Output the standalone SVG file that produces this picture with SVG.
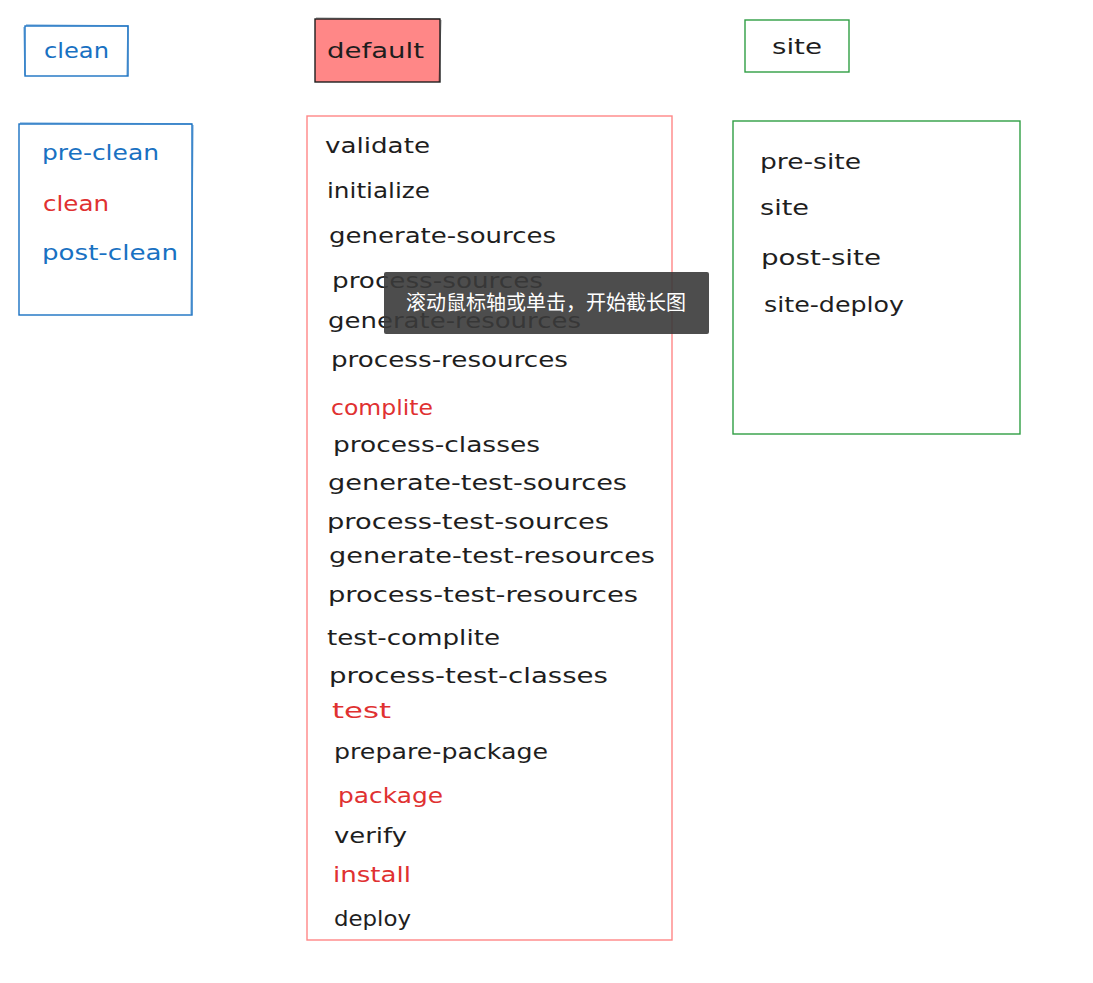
<svg xmlns="http://www.w3.org/2000/svg" width="1093" height="983" viewBox="0 0 1093 983">
<style>
.t{font-family:"DejaVu Sans","Liberation Sans",sans-serif;font-size:22px;fill:#1e1e1e}
.r{fill:#e03131}
.b{fill:#1971c2}
.box{fill:none;stroke-width:1.4}
.blue{stroke:#1971c2}
.red{stroke:#ff8787}
.green{stroke:#2f9e44}
.tip{font-family:"Noto Sans CJK SC","Noto Sans",sans-serif;font-size:20px;fill:#ffffff}
</style>
<rect width="1093" height="983" fill="#ffffff"/>
<g id="connectors"/>
<g id="clean-header">
<rect class="box blue" x="25" y="26" width="103" height="50"/>
<path class="box blue" d="M26 25 L128 26 M128 25 L127 76 M24 27 L25 75" stroke-opacity="0.5"/>
<text class="t b" x="44" y="58" textLength="65" lengthAdjust="spacingAndGlyphs">clean</text>
</g>
<g id="clean-list">
<rect class="box blue" x="19" y="124" width="173" height="191"/>
<path class="box blue" d="M20 123 L192 124 M193 125 L191 314" stroke-opacity="0.5"/>
<text class="t b" x="42" y="160" textLength="117" lengthAdjust="spacingAndGlyphs">pre-clean</text>
<text class="t r" x="43" y="211" textLength="66" lengthAdjust="spacingAndGlyphs">clean</text>
<text class="t b" x="42" y="260" textLength="136" lengthAdjust="spacingAndGlyphs">post-clean</text>
</g>
<g id="default-header">
<rect x="315" y="19" width="125" height="63" fill="#ff8787" stroke="#1e1e1e" stroke-width="1.4"/>
<path d="M316 18 L440 19 M441 20 L439 82" fill="none" stroke="#1e1e1e" stroke-width="1" stroke-opacity="0.5"/>
<text class="t" x="327" y="58" textLength="97" lengthAdjust="spacingAndGlyphs">default</text>
</g>
<g id="default-list">
<rect class="box red" x="307" y="116" width="365" height="824"/>
<text class="t" x="325" y="153" textLength="105" lengthAdjust="spacingAndGlyphs">validate</text>
<text class="t" x="327" y="198" textLength="103" lengthAdjust="spacingAndGlyphs">initialize</text>
<text class="t" x="329" y="243" textLength="227" lengthAdjust="spacingAndGlyphs">generate-sources</text>
<text class="t" x="332" y="288" textLength="211" lengthAdjust="spacingAndGlyphs">process-sources</text>
<text class="t" x="328" y="328" textLength="253" lengthAdjust="spacingAndGlyphs">generate-resources</text>
<text class="t" x="331" y="367" textLength="237" lengthAdjust="spacingAndGlyphs">process-resources</text>
<text class="t r" x="331" y="415" textLength="102" lengthAdjust="spacingAndGlyphs">complite</text>
<text class="t" x="333" y="452" textLength="207" lengthAdjust="spacingAndGlyphs">process-classes</text>
<text class="t" x="328" y="490" textLength="299" lengthAdjust="spacingAndGlyphs">generate-test-sources</text>
<text class="t" x="327" y="529" textLength="282" lengthAdjust="spacingAndGlyphs">process-test-sources</text>
<text class="t" x="329" y="563" textLength="326" lengthAdjust="spacingAndGlyphs">generate-test-resources</text>
<text class="t" x="328" y="602" textLength="310" lengthAdjust="spacingAndGlyphs">process-test-resources</text>
<text class="t" x="327" y="645" textLength="173" lengthAdjust="spacingAndGlyphs">test-complite</text>
<text class="t" x="329" y="683" textLength="279" lengthAdjust="spacingAndGlyphs">process-test-classes</text>
<text class="t r" x="332" y="718" textLength="59" lengthAdjust="spacingAndGlyphs">test</text>
<text class="t" x="334" y="759" textLength="214" lengthAdjust="spacingAndGlyphs">prepare-package</text>
<text class="t r" x="338" y="803" textLength="105" lengthAdjust="spacingAndGlyphs">package</text>
<text class="t" x="334" y="843" textLength="73" lengthAdjust="spacingAndGlyphs">verify</text>
<text class="t r" x="333" y="882" textLength="78" lengthAdjust="spacingAndGlyphs">install</text>
<text class="t" x="334" y="926" textLength="77" lengthAdjust="spacingAndGlyphs">deploy</text>
</g>
<g id="site-header">
<rect class="box green" x="745" y="20" width="104" height="52"/>
<text class="t" x="772" y="54" textLength="50" lengthAdjust="spacingAndGlyphs">site</text>
</g>
<g id="site-list">
<rect class="box green" x="733" y="121" width="287" height="313"/>
<text class="t" x="760" y="169" textLength="101" lengthAdjust="spacingAndGlyphs">pre-site</text>
<text class="t" x="760" y="215" textLength="49" lengthAdjust="spacingAndGlyphs">site</text>
<text class="t" x="761" y="265" textLength="120" lengthAdjust="spacingAndGlyphs">post-site</text>
<text class="t" x="764" y="312" textLength="140" lengthAdjust="spacingAndGlyphs">site-deploy</text>
</g>
<g id="tooltip">
<rect x="384" y="272" width="325" height="62" rx="2" fill="#3a3a3a" fill-opacity="0.9"/>
<text class="tip" x="406" y="310" textLength="280" lengthAdjust="spacingAndGlyphs">滚动鼠标轴或单击，开始截长图</text>
</g>
</svg>
